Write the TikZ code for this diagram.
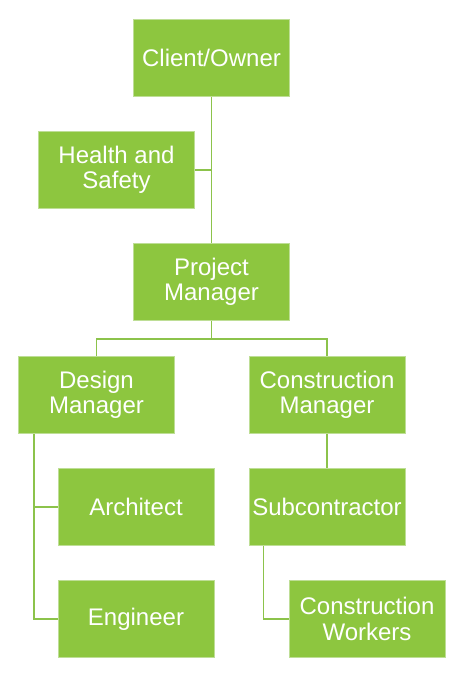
\documentclass[tikz,border=0pt]{standalone}
\usepackage{fontspec}
\setmainfont{Liberation Sans}
\usetikzlibrary{calc}

\definecolor{boxfill}{RGB}{141,198,63}
\definecolor{boxline}{RGB}{190,222,150}
\definecolor{linkline}{RGB}{140,195,75}

\begin{document}
\begin{tikzpicture}[x=1pt, y=-1pt,
    box/.style={draw=boxline, line width=1pt, fill=boxfill, text=white,
        minimum width=156pt, minimum height=77pt, align=center, inner sep=0pt,
        font=\fontsize{24}{25.5}\selectfont},
    link/.style={draw=linkline, line width=1.3pt}]

    % 画布大小
    \useasboundingbox (0, 0) rectangle (471, 697);

    % 定义方框
    \node[box] (client)    at (211.5, 58)  {Client/Owner};
    \node[box] (health)    at (116.5, 170) {Health and\\Safety};
    \node[box] (pm)        at (211.5, 282) {Project\\Manager};
    \node[box] (design)    at (96.5, 395)  {Design\\Manager};
    \node[box] (cm)        at (327, 395)   {Construction\\Manager};
    \node[box] (architect) at (136, 507)   {Architect};
    \node[box] (engineer)  at (136, 619)   {Engineer};
    \node[box] (sub)       at (327, 507)   {Subcontractor};
    \node[box] (workers)   at (367, 619)   {Construction\\Workers};

    % 辅助坐标
    \coordinate (bus) at ($(pm.south) + (0, 18)$);              % 分支点
    \coordinate (d_trunk) at ($(design.south west) + (16, 0)$); % 设计主干
    \coordinate (s_trunk) at ($(sub.south west) + (15, 0)$);    % 分包主干

    % 连线
    \draw[link] (client.south) -- (pm.north);
    \draw[link] (health.east) -- (health.east -| client.south);
    \draw[link] (pm.south) -- (bus);
    \draw[link] (design.north) |- (bus) -| (cm.north);
    \draw[link] (d_trunk) |- (architect.west);
    \draw[link] (d_trunk) |- (engineer.west);
    \draw[link] (cm.south) -- (sub.north);
    \draw[link] (s_trunk) |- (workers.west);

\end{tikzpicture}
\end{document}
